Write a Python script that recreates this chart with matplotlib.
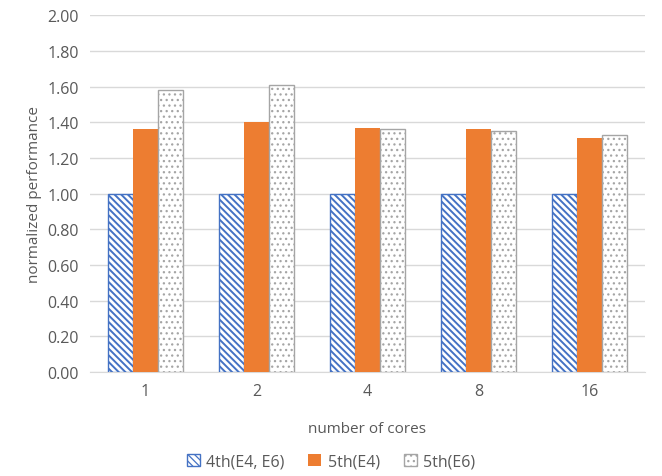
import numpy as np
import matplotlib
matplotlib.use("Agg")
import matplotlib.pyplot as plt

plt.rcParams['font.family'] = ['Open Sans', 'DejaVu Sans']
plt.rcParams['hatch.linewidth'] = 1.4

cores = ['1', '2', '4', '8', '16']
gen4 = [1.00, 1.00, 1.00, 1.00, 1.00]
gen5_e4 = [1.36, 1.40, 1.37, 1.36, 1.31]
gen5_e6 = [1.58, 1.61, 1.36, 1.35, 1.33]

fig = plt.figure(figsize=(6.62, 4.77), dpi=100)
ax = fig.add_axes([0.136, 0.218, 0.838, 0.748])

x = np.arange(len(cores))
w = 0.225
ax.bar(x - w, gen4, w, facecolor='white', edgecolor='#4472C4', hatch='\\\\\\\\\\', linewidth=1.0,
       label='4th(E4, E6)', zorder=3)
ax.bar(x, gen5_e4, w, color='#ED7D31', label='5th(E4)', zorder=3)
plt.rcParams['hatch.linewidth'] = 0.9
ax.bar(x + w, gen5_e6, w, facecolor='white', edgecolor='#A5A5A5', hatch='...', linewidth=1.0,
       label='5th(E6)', zorder=3)

ax.set_ylim(0, 2.0)
ax.set_yticks(np.arange(0, 2.01, 0.2))
ax.set_yticklabels(['%.2f' % v for v in np.arange(0, 2.01, 0.2)])
ax.set_xticks(x)
ax.set_xticklabels(cores)
ax.set_xlim(-0.5, len(cores) - 0.5)
ax.grid(axis='y', color='#D9D9D9', linewidth=1, zorder=0)
for s in ['top', 'right', 'left']:
    ax.spines[s].set_visible(False)
ax.spines['bottom'].set_color('#D9D9D9')
ax.tick_params(length=0, labelsize=11.5, colors='#595959', pad=8)
ax.set_ylabel('normalized performance', fontsize=11, color='#595959')
ax.set_xlabel('number of cores', fontsize=11, color='#595959', labelpad=16)

fig.legend(*ax.get_legend_handles_labels(), loc='center', bbox_to_anchor=(0.5, 0.03), ncol=3,
           frameon=False, fontsize=11.5, labelcolor='#595959', handlelength=0.8,
           handleheight=0.8, columnspacing=1.5, handletextpad=0.4)

fig.savefig('out.png', dpi=100)
